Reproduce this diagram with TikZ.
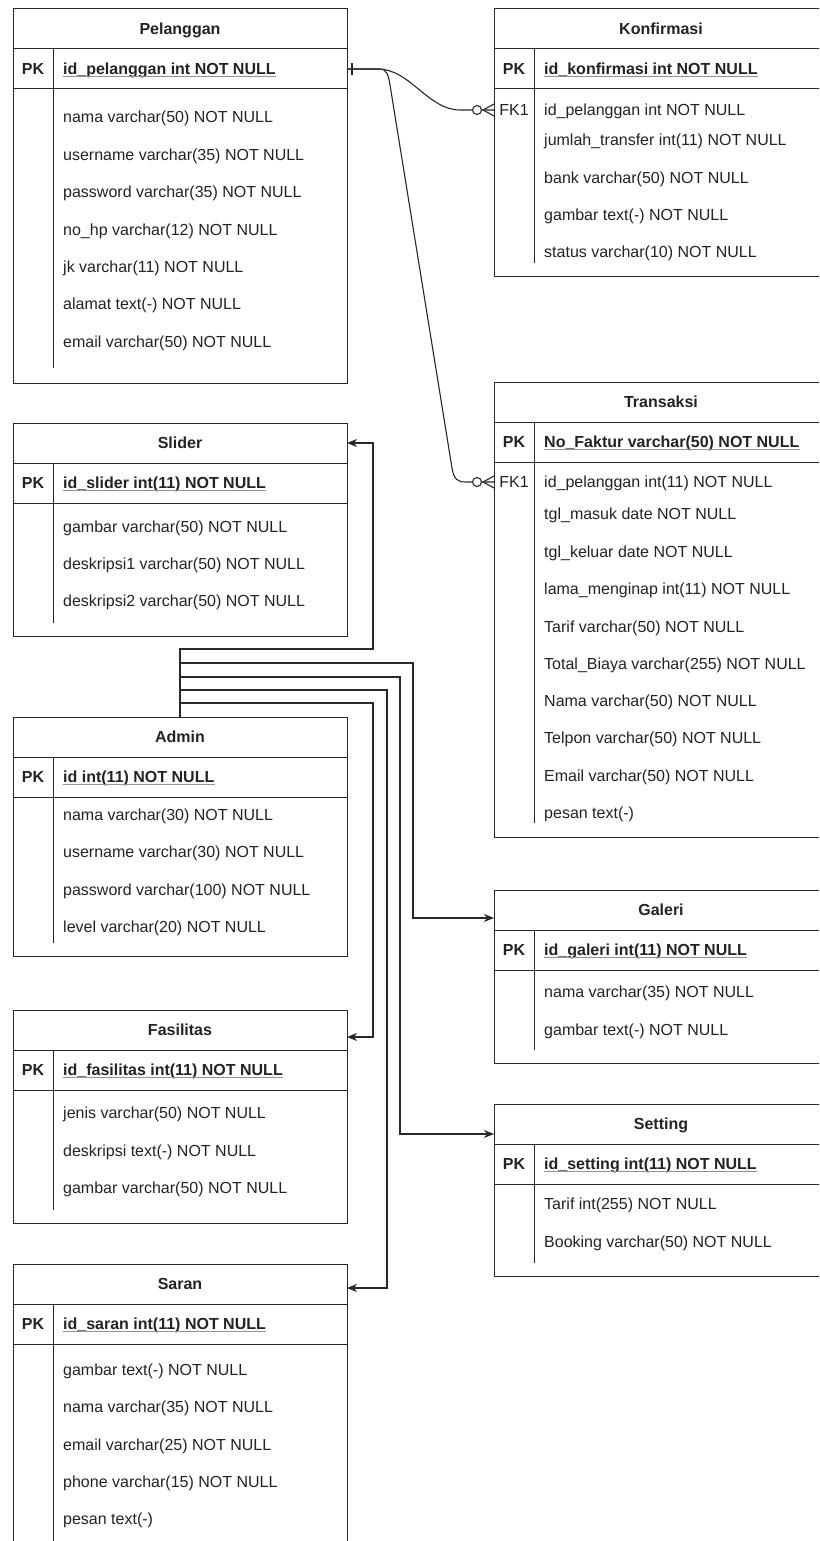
\documentclass[tikz,border=0pt]{standalone}
\usepackage{fontspec}
\setmainfont{Liberation Sans}
\usetikzlibrary{arrows.meta,calc}
\definecolor{lc}{RGB}{40,40,40}
\definecolor{tc}{RGB}{35,35,35}
\newcommand\fs{\fontsize{16}{18}\selectfont}
\tikzset{
 ln/.style={draw=lc, line width=1pt},
 tbl/.style={draw=lc, line width=1pt, fill=white, rectangle, anchor=north west, minimum width=334pt, inner sep=0pt, outer sep=0pt},
 hdr/.style={minimum width=334pt, minimum height=40pt, inner sep=0pt, outer sep=0pt, text height=11.5pt, text depth=0pt, font=\fs\bfseries, text=tc},
 rowbox/.style={minimum width=334pt, minimum height=40pt, inner sep=0pt, outer sep=0pt},
 fld/.style={anchor=west, inner sep=0pt, text height=11.5pt, text depth=0pt, font=\fs, text=tc},
 pkl/.style={fld, anchor=center, font=\fs\bfseries},
 ul/.style={draw=gray!85, line width=1pt},
 conn/.style={draw=lc, line width=1.1pt},
 arr/.style={conn, -{Stealth[length=10pt,width=8pt,inset=3pt]}},
}
\newcommand\ertable[6]{%
 \pgfmathsetmacro\erh{#4-#3}%
 \node[tbl, minimum height=\erh pt] (#1) at (#2,#3) {};
 \node[hdr, anchor=north west] (#1-h) at (#2,#3) {#5};
 \node[rowbox, anchor=north west] (#1-pk) at (#2,#3+40) {};
 \draw[ln] (#2,#3+40) -- ++(334,0) (#2,#3+80) -- ++(334,0);
 \draw[ln] (#2+40,#3+40) -- (#2+40,#6);
 \node[pkl] (#1-pkl) at (#2+20,#3+60) {PK};
}
\newcommand\pkfield[2]{%
 \node[fld, font=\fs\bfseries] (#1-pkt) at ($(#1-pk.west)+(50,0)$) {#2};
 \draw[ul] ($(#1-pkt.base west)+(0,2)$) -- ($(#1-pkt.base east)+(0,2)$);
}
\begin{document}
\begin{tikzpicture}[x=1pt,y=-1pt]
\useasboundingbox (0,0) rectangle (819,1541);
\fill[white] (0,0) rectangle (819,1541);
\clip (0,0) rectangle (819,1541);

% Pelanggan
\ertable{pel}{13}{9}{383}{Pelanggan}{368}
\pkfield{pel}{id\_pelanggan int NOT NULL}
\foreach \yy/\tx [count=\i] in {117/nama varchar(50) NOT NULL, 155/username varchar(35) NOT NULL, 192/password varchar(35) NOT NULL, 230/no\_hp varchar(12) NOT NULL, 267/jk varchar(11) NOT NULL, 304/alamat text(-) NOT NULL, 342/email varchar(50) NOT NULL}
 \node[fld] (pel-f\i) at (63,\yy) {\tx};

% Konfirmasi
\ertable{kon}{494}{9}{276}{Konfirmasi}{263}
\pkfield{kon}{id\_konfirmasi int NOT NULL}
\node[rowbox, anchor=west] (kon-fk) at (494,110) {};
\node[fld, anchor=center] (kon-fkl) at (514,110) {FK1};
\foreach \yy/\tx [count=\i] in {110/id\_pelanggan int NOT NULL, 140/jumlah\_transfer int(11) NOT NULL, 178/bank varchar(50) NOT NULL, 215/gambar text(-) NOT NULL, 252/status varchar(10) NOT NULL}
 \node[fld] (kon-f\i) at (544,\yy) {\tx};

% Slider
\ertable{sli}{13}{423}{636}{Slider}{623}
\pkfield{sli}{id\_slider int(11) NOT NULL}
\foreach \yy/\tx [count=\i] in {527/gambar varchar(50) NOT NULL, 564/deskripsi1 varchar(50) NOT NULL, 601/deskripsi2 varchar(50) NOT NULL}
 \node[fld] (sli-f\i) at (63,\yy) {\tx};

% Transaksi
\ertable{tra}{494}{382}{837}{Transaksi}{823}
\pkfield{tra}{No\_Faktur varchar(50) NOT NULL}
\node[rowbox, anchor=west] (tra-fk) at (494,482) {};
\node[fld, anchor=center] (tra-fkl) at (514,482) {FK1};
\foreach \yy/\tx [count=\i] in {482/id\_pelanggan int(11) NOT NULL, 514/tgl\_masuk date NOT NULL, 552/tgl\_keluar date NOT NULL, 589/lama\_menginap int(11) NOT NULL, 627/Tarif varchar(50) NOT NULL, 664/Total\_Biaya varchar(255) NOT NULL, 701/Nama varchar(50) NOT NULL, 738/Telpon varchar(50) NOT NULL, 776/Email varchar(50) NOT NULL, 813/pesan text(-)}
 \node[fld] (tra-f\i) at (544,\yy) {\tx};

% Admin
\ertable{adm}{13}{717}{956}{Admin}{943}
\pkfield{adm}{id int(11) NOT NULL}
\foreach \yy/\tx [count=\i] in {815/nama varchar(30) NOT NULL, 852/username varchar(30) NOT NULL, 890/password varchar(100) NOT NULL, 927/level varchar(20) NOT NULL}
 \node[fld] (adm-f\i) at (63,\yy) {\tx};

% Galeri
\ertable{gal}{494}{890}{1063}{Galeri}{1050}
\pkfield{gal}{id\_galeri int(11) NOT NULL}
\foreach \yy/\tx [count=\i] in {992/nama varchar(35) NOT NULL, 1030/gambar text(-) NOT NULL}
 \node[fld] (gal-f\i) at (544,\yy) {\tx};

% Fasilitas
\ertable{fas}{13}{1010}{1223}{Fasilitas}{1210}
\pkfield{fas}{id\_fasilitas int(11) NOT NULL}
\foreach \yy/\tx [count=\i] in {1113/jenis varchar(50) NOT NULL, 1151/deskripsi text(-) NOT NULL, 1188/gambar varchar(50) NOT NULL}
 \node[fld] (fas-f\i) at (63,\yy) {\tx};

% Setting
\ertable{set}{494}{1104}{1276}{Setting}{1263}
\pkfield{set}{id\_setting int(11) NOT NULL}
\foreach \yy/\tx [count=\i] in {1204/Tarif int(255) NOT NULL, 1242/Booking varchar(50) NOT NULL}
 \node[fld] (set-f\i) at (544,\yy) {\tx};

% Saran
\ertable{sar}{13}{1264}{1575}{Saran}{1575}
\pkfield{sar}{id\_saran int(11) NOT NULL}
\foreach \yy/\tx [count=\i] in {1370/gambar text(-) NOT NULL, 1407/nama varchar(35) NOT NULL, 1445/email varchar(25) NOT NULL, 1482/phone varchar(15) NOT NULL, 1519/pesan text(-)}
 \node[fld] (sar-f\i) at (63,\yy) {\tx};

% Pelanggan -> Konfirmasi
\draw[conn] (pel-pk.east) -- ++(31,0) .. controls +(32,0) and +(-32,0) .. ($(kon-fk.west)+(-34,0)$) -- (kon-fk.west);
% Pelanggan -> Transaksi
\draw[conn] (pel-pk.east) -- ++(33,0) .. controls +(7,0) and +(-1.5,-9) .. (390,85) -- (452,468) .. controls +(2,12) and +(-8,0) .. ($(tra-fk.west)+(-28,0)$) -- (tra-fk.west);
% one marker
\draw[conn] ($(pel-pk.east)+(5,-6)$) -- ++(0,12);
% zero-to-many markers
\foreach \t in {kon-fk,tra-fk}{
 \draw[conn, fill=white] ($(\t.west)+(-17,0)$) circle[radius=4.5pt];
 \draw[conn] ($(\t.west)+(-11,0)$) -- ($(\t.west)+(0,-6)$) ($(\t.west)+(-11,0)$) -- ($(\t.west)+(0,6)$);
}

% Admin -> others
\draw[arr] (adm.north) |- (373,649) |- (sli-h.east);
\draw[arr] (adm.north) |- (413,663) |- ($(gal.north west)+(0,28)$);
\draw[arr] (adm.north) |- (400,677) |- ($(set.north west)+(0,30)$);
\draw[arr] (adm.north) |- (387,690) |- ($(sar.north east)+(0,24)$);
\draw[arr] (adm.north) |- (373,703) |- ($(fas.north east)+(0,27)$);
\end{tikzpicture}
\end{document}
